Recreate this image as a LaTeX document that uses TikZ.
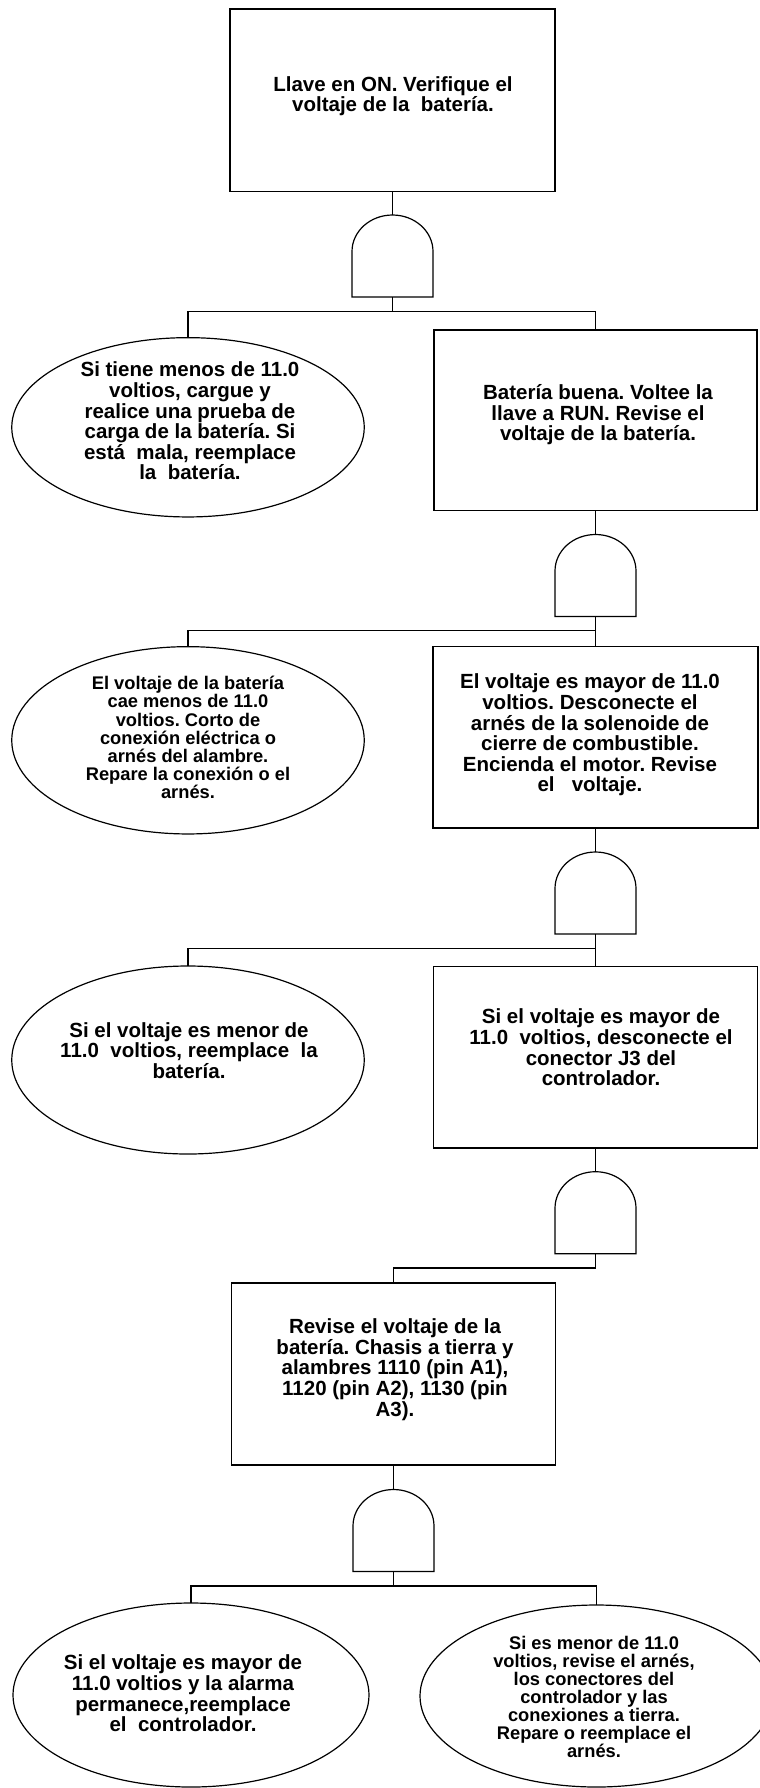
\documentclass[tikz,border=0pt]{standalone}
\usepackage{fontspec}
\setmainfont{Liberation Sans}
\usetikzlibrary{shapes.geometric}
\newcommand\andgate[1]{\draw[wire] (#1.south west) -- ++(0,-45.5) arc[start angle=180,end angle=0,x radius=40.5pt,y radius=36.5pt] -- (#1.south east) -- cycle;}
\frenchspacing
\begin{document}
\begin{tikzpicture}[x=1pt,y=-1pt,
  box/.style={draw, line width=1.3pt, rectangle, inner sep=0pt, outer sep=0pt},
  oval/.style={draw, line width=1.2pt, ellipse, inner sep=0pt, outer sep=0pt},
  txt/.style={align=center, inner sep=0pt, font=\bfseries\fontsize{20.5}{20.6}\selectfont},
  txts/.style={align=center, inner sep=0pt, font=\bfseries\fontsize{18.3}{18.1}\selectfont},
  gatebox/.style={minimum width=81pt, minimum height=82pt, inner sep=0pt, outer sep=0pt},
  wire/.style={line width=1.2pt}]
\clip (0,0) rectangle (760,1788);
\fill[white] (0,0) rectangle (760,1788);

% level 1
\node[box, minimum width=325pt, minimum height=182.7pt] (b1) at (392.5,100.3) {};
\node[txt] (t1) at (393,96) {Llave en ON. Verifique el\\voltaje de la\ \ batería.};
\node[gatebox] (g1) at (392.5,256) {};
\andgate{g1}
\coordinate (j1) at (392.5,311.7);
\node[oval, minimum width=352.5pt, minimum height=179.3pt] (e1) at (188,427.3) {};
\node[txt] (te1) at (190,421) {Si tiene menos de 11.0\\voltios, cargue y\\realice una prueba de\\carga de la batería. Si\\está\ \ mala, reemplace\\la\ \ batería.};
\node[box, minimum width=323pt, minimum height=180.7pt] (b2) at (595.5,420.35) {};
\node[txt] (t2) at (598,415) {Batería buena. Voltee la\\llave a RUN. Revise el\\voltaje de la batería.};
\draw[wire] (b1.south) -- (g1.north);
\draw[wire] (g1.south) -- (j1);
\draw[wire] (e1.north) |- (j1) -| (b2.north);

% level 2
\node[gatebox] (g2) at (595.5,575.5) {};
\andgate{g2}
\coordinate (j2) at (595.5,630.7);
\node[oval, minimum width=352.5pt, minimum height=187.3pt] (e2) at (188,740.3) {};
\node[txts] (te2) at (188,737.5) {El voltaje de la batería\\cae menos de 11.0\\voltios. Corto de\\conexión eléctrica o\\arnés del alambre.\\Repare la conexión o el\\arnés.};
\node[box, minimum width=325pt, minimum height=181.3pt] (b3) at (595.5,737.35) {};
\node[txt] (t3) at (590,735) {El voltaje es mayor de 11.0\\voltios. Desconecte el\\arnés de la solenoide de\\cierre de combustible.\\Encienda el motor. Revise\\el\ \ \ voltaje.};
\draw[wire] (b2.south) -- (g2.north);
\draw[wire] (g2.south) -- (b3.north);
\draw[wire] (e2.north) |- (j2);

% level 3
\node[gatebox] (g3) at (595.5,893) {};
\andgate{g3}
\coordinate (j3) at (595.5,948.5);
\node[oval, minimum width=352.5pt, minimum height=188pt] (e3) at (188,1060) {};
\node[txt] (te3) at (189,1050.5) {Si el voltaje es menor de\\11.0\ \ voltios, reemplace\ \ la\\batería.};
\node[box, minimum width=324pt, minimum height=181.3pt] (b4) at (595.5,1057.35) {};
\node[txt] (t4) at (601,1047.5) {Si el voltaje es mayor de\\11.0\ \ voltios, desconecte el\\conector J3 del\\controlador.};
\draw[wire] (b3.south) -- (g3.north);
\draw[wire] (g3.south) -- (b4.north);
\draw[wire] (e3.north) |- (j3);

% level 4
\node[gatebox] (g4) at (595.5,1212.7) {};
\andgate{g4}
\coordinate (k4) at (595.5,1268);
\node[box, minimum width=324pt, minimum height=182pt] (b5) at (393.5,1374) {};
\node[txt] (t5) at (395,1369.5) {Revise el voltaje de la\\batería. Chasis a tierra y\\alambres 1110 (pin A1),\\1120 (pin A2), 1130 (pin\\A3).};
\draw[wire] (b4.south) -- (g4.north);
\draw[wire] (g4.south) -- (k4) -| (b5.north);

% level 5
\node[gatebox] (g5) at (393.5,1530.5) {};
\andgate{g5}
\coordinate (j5) at (393.5,1586);
\node[oval, minimum width=356pt, minimum height=184pt] (e6) at (191,1695) {};
\node[txt] (te6) at (183,1693.5) {Si el voltaje es mayor de\\11.0 voltios y la alarma\\permanece,reemplace\\el\ \ controlador.};
\node[oval, minimum width=353pt, minimum height=182pt] (e7) at (596.5,1696) {};
\node[txts] (te7) at (594,1697) {Si es menor de 11.0\\voltios, revise el arnés,\\los conectores del\\controlador y las\\conexiones a tierra.\\Repare o reemplace el\\arnés.};
\draw[wire] (b5.south) -- (g5.north);
\draw[wire] (g5.south) -- (j5);
\draw[wire] (e6.north) |- (j5) -| (e7.north);
\end{tikzpicture}
\end{document}
